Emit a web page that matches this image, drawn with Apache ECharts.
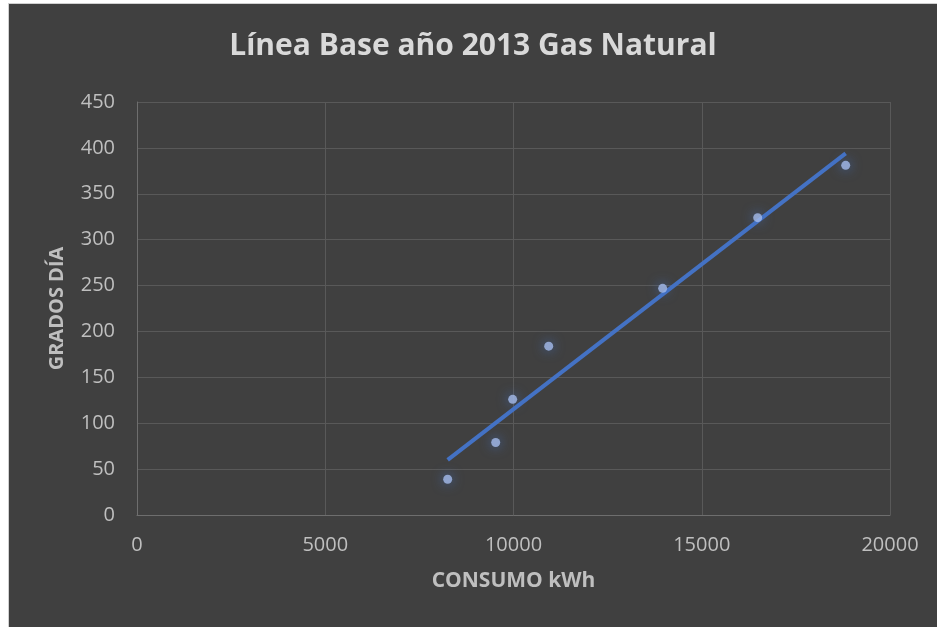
<!DOCTYPE html>
<html>
<head>
<meta charset="utf-8">
<script src="https://cdn.jsdelivr.net/npm/echarts@6/dist/echarts.min.js"></script>
<style>
  html, body { margin: 0; padding: 0; background: #404040; overflow: hidden; }
  #margenIzq { position: absolute; left: 0; top: 0; width: 8px; height: 100%; background: #ffffff; }
  #margenSup { position: absolute; left: 0; top: 0; width: 100%; height: 3px; background: #ffffff; }
  #chart { position: absolute; left: 8px; top: 3px; width: 929px; height: 626px; border-left: 1px solid #d0d0d0; border-top: 1px solid #d0d0d0; box-sizing: border-box; }
</style>
</head>
<body>
<div id="margenIzq"></div>
<div id="margenSup"></div>
<div id="chart"></div>
<script>
  // puntos (consumo kWh, grados dia)
  const consumo = [8252, 9527, 9978, 10935, 13962, 16486, 18823];
  const gradosDia = [39, 79, 126, 184, 247, 324, 381];
  // linea de tendencia: extremos
  const tendenciaX = [8252, 18823];
  const tendenciaY = [60, 394];

  const puntos = consumo.map((x, i) => [x, gradosDia[i]]);
  const tendencia = tendenciaX.map((x, i) => [x, tendenciaY[i]]);

  const chart = echarts.init(document.getElementById('chart'));
  chart.setOption({
    backgroundColor: '#404040',
    animation: false,
    title: {
      text: 'Línea Base año 2013 Gas Natural',
      left: 'center',
      top: 22,
      textStyle: { color: '#d9d9d9', fontSize: 30, fontWeight: 'bold', fontFamily: 'Open Sans' }
    },
    grid: { left: 128, right: 47, top: 98, bottom: 114 },
    xAxis: {
      type: 'value',
      min: 0, max: 20000, interval: 5000,
      name: 'CONSUMO kWh',
      nameLocation: 'middle',
      nameGap: 56,
      nameTextStyle: { color: '#bfbfbf', fontSize: 21, fontWeight: 'bold', fontFamily: 'Open Sans' },
      axisLine: { lineStyle: { color: '#6e6e6e' } },
      axisTick: { show: false },
      axisLabel: { color: '#bfbfbf', fontSize: 20, margin: 20, fontFamily: 'Open Sans', formatter: v => String(v) },
      splitLine: { lineStyle: { color: '#595959', width: 1 } }
    },
    yAxis: {
      type: 'value',
      min: 0, max: 450, interval: 50,
      name: 'GRADOS DÍA',
      nameLocation: 'middle',
      nameGap: 70,
      nameTextStyle: { color: '#bfbfbf', fontSize: 20, fontWeight: 'bold', fontFamily: 'Open Sans' },
      axisLine: { show: true, lineStyle: { color: '#6e6e6e' } },
      axisTick: { show: false },
      axisLabel: { color: '#bfbfbf', fontSize: 20, margin: 22, fontFamily: 'Open Sans' },
      splitLine: { lineStyle: { color: '#595959', width: 1 } }
    },
    series: [
      {
        name: 'Tendencia',
        type: 'line',
        data: tendencia,
        showSymbol: false,
        lineStyle: { color: '#4472c4', width: 4 },
        z: 2
      },
      {
        name: 'Grados día',
        type: 'scatter',
        data: puntos,
        symbolSize: 9,
        itemStyle: {
          color: '#a4bcec',
          shadowColor: 'rgba(68,114,196,1)',
          shadowBlur: 12
        },
        z: 3
      }
    ]
  });
</script>
</body>
</html>
